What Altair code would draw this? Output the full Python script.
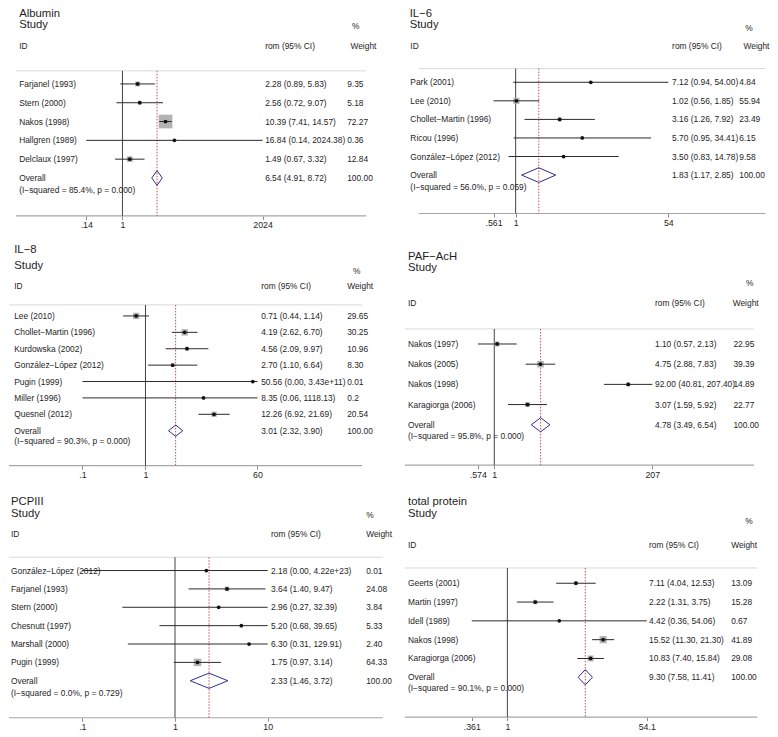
import math
import numpy as np
import pandas as pd
import altair as alt

FONT = "Liberation Sans"
TXT = "#1e1e1e"
SX, SY = 0.984, 0.977          # fit the reference layout inside the 8px page margin
CELL_W = 386.0

# ---------------- data ----------------
albumin_study = ["Farjanel (1993)", "Stern (2000)", "Nakos (1998)", "Hallgren (1989)", "Delclaux (1997)"]
albumin_est = [2.28, 2.56, 10.39, 16.84, 1.49]
albumin_lo = [0.89, 0.72, 7.41, 0.14, 0.67]
albumin_hi = [5.83, 9.07, 14.57, 2024.38, 3.32]
albumin_wt = ["9.35", "5.18", "72.27", "0.36", "12.84"]
albumin_overall = [6.54, 4.91, 8.72]
albumin_het = ["85.4%", "0.000"]
albumin_ticks = [0.14, 1, 2024]

il6_study = ["Park (2001)", "Lee (2010)", "Chollet\u2212Martin (1996)", "Ricou (1996)", "González\u2212López (2012)"]
il6_est = [7.12, 1.02, 3.16, 5.70, 3.50]
il6_lo = [0.94, 0.56, 1.26, 0.95, 0.83]
il6_hi = [54.00, 1.85, 7.92, 34.41, 14.78]
il6_wt = ["4.84", "55.94", "23.49", "6.15", "9.58"]
il6_overall = [1.83, 1.17, 2.85]
il6_het = ["56.0%", "0.059"]
il6_ticks = [0.561, 1, 54]

il8_study = ["Lee (2010)", "Chollet\u2212Martin (1996)", "Kurdowska (2002)", "González\u2212López (2012)",
             "Pugin (1999)", "Miller (1996)", "Quesnel (2012)"]
il8_est = [0.71, 4.19, 4.56, 2.70, 50.56, 8.35, 12.26]
il8_lo = [0.44, 2.62, 2.09, 1.10, 0.00, 0.06, 6.92]
il8_hi = [1.14, 6.70, 9.97, 6.64, 3.43e11, 1118.13, 21.69]
il8_wt = ["29.65", "30.25", "10.96", "8.30", "0.01", "0.2", "20.54"]
il8_overall = [3.01, 2.32, 3.90]
il8_het = ["90.3%", "0.000"]
il8_ticks = [0.1, 1, 60]

paf_study = ["Nakos (1997)", "Nakos (2005)", "Nakos (1998)", "Karagiorga (2006)"]
paf_est = [1.10, 4.75, 92.00, 3.07]
paf_lo = [0.57, 2.88, 40.81, 1.59]
paf_hi = [2.13, 7.83, 207.40, 5.92]
paf_wt = ["22.95", "39.39", "14.89", "22.77"]
paf_overall = [4.78, 3.49, 6.54]
paf_het = ["95.8%", "0.000"]
paf_ticks = [0.574, 1, 207]

pcp_study = ["González\u2212López (2012)", "Farjanel (1993)", "Stern (2000)", "Chesnutt (1997)",
             "Marshall (2000)", "Pugin (1999)"]
pcp_est = [2.18, 3.64, 2.96, 5.20, 6.30, 1.75]
pcp_lo = [0.00, 1.40, 0.27, 0.68, 0.31, 0.97]
pcp_hi = [4.22e23, 9.47, 32.39, 39.65, 129.91, 3.14]
pcp_wt = ["0.01", "24.08", "3.84", "5.33", "2.40", "64.33"]
pcp_overall = [2.33, 1.46, 3.72]
pcp_het = ["0.0%", "0.729"]
pcp_ticks = [0.1, 1, 10]

tp_study = ["Geerts (2001)", "Martin (1997)", "Idell (1989)", "Nakos (1998)", "Karagiorga (2006)"]
tp_est = [7.11, 2.22, 4.42, 15.52, 10.83]
tp_lo = [4.04, 1.31, 0.36, 11.30, 7.40]
tp_hi = [12.53, 3.75, 54.06, 21.30, 15.84]
tp_wt = ["13.09", "15.28", "0.67", "41.89", "29.08"]
tp_overall = [9.30, 7.58, 11.41]
tp_het = ["90.1%", "0.000"]
tp_ticks = [0.361, 1, 54.1]

titles = ["Albumin", "IL\u22126", "IL\u22128", "PAF\u2212AcH", "PCPIII", "total protein"]

DATA = [
    dict(study=albumin_study, est=albumin_est, lo=albumin_lo, hi=albumin_hi, wt=albumin_wt,
         overall=albumin_overall, het=albumin_het, ticks=albumin_ticks),
    dict(study=il6_study, est=il6_est, lo=il6_lo, hi=il6_hi, wt=il6_wt,
         overall=il6_overall, het=il6_het, ticks=il6_ticks),
    dict(study=il8_study, est=il8_est, lo=il8_lo, hi=il8_hi, wt=il8_wt,
         overall=il8_overall, het=il8_het, ticks=il8_ticks),
    dict(study=paf_study, est=paf_est, lo=paf_lo, hi=paf_hi, wt=paf_wt,
         overall=paf_overall, het=paf_het, ticks=paf_ticks),
    dict(study=pcp_study, est=pcp_est, lo=pcp_lo, hi=pcp_hi, wt=pcp_wt,
         overall=pcp_overall, het=pcp_het, ticks=pcp_ticks),
    dict(study=tp_study, est=tp_est, lo=tp_lo, hi=tp_hi, wt=tp_wt,
         overall=tp_overall, het=tp_het, ticks=tp_ticks),
]

# ---------------- layout (reference pixel geometry) ----------------
# grid rows are stacked flush: each row starts where the previous row's tallest panel ends
ROW_TOPS = [0.0, 211.7, 467.3]
COL_LEFTS = [3.0, 3.0 + CELL_W]

LAYOUT = [
    dict(cell=(COL_LEFTS[0], ROW_TOPS[0]), axis_y=211.7, first=76.7, sp=19.25, null_x=118.3, ppu=18.7,
         sep_y=63.3, line_x=(10, 366), box_c=1.647, dia_h=7.5, isq_dy=12.0,
         title=(13.3, 5.6), study_hdr=(13.3, 16.5), pct=(351.7, 17.8), hdr_y=37.8,
         id_x=13.3, ci_x=263.3, w_x=346.7, whdr_x=350.0),
    dict(cell=(COL_LEFTS[1], ROW_TOPS[0]), axis_y=209.3, first=75.0, sp=19.0, null_x=517.7, ppu=38.9,
         sep_y=61.0, line_x=(419.3, 771.7), box_c=0.842, dia_h=7.5, isq_dy=12.3,
         title=(410.0, 5.6), study_hdr=(410.0, 16.5), pct=(751.0, 19.2), hdr_y=37.8,
         id_x=410.7, ci_x=676.7, w_x=745.0, whdr_x=749.3),
    dict(cell=(COL_LEFTS[0], ROW_TOPS[1]), axis_y=467.3, first=314.0, sp=16.78, null_x=141.7, ppu=27.8,
         sep_y=302.7, line_x=(3, 361.7), box_c=1.19, dia_h=5.8, isq_dy=10.7,
         title=(8.3, 246.5), study_hdr=(8.3, 262.8), pct=(352.7, 267.8), hdr_y=283.7,
         id_x=8.3, ci_x=259.3, w_x=346.7, whdr_x=346.7),
    dict(cell=(COL_LEFTS[1], ROW_TOPS[1]), axis_y=466.7, first=342.7, sp=20.67, null_x=496.0, ppu=30.1,
         sep_y=327.3, line_x=(405, 760), box_c=1.07, dia_h=7.2, isq_dy=11.0,
         title=(408.3, 253.7), study_hdr=(408.3, 264.5), pct=(751.7, 280.0), hdr_y=301.2,
         id_x=408.3, ci_x=659.3, w_x=739.0, whdr_x=738.3),
    dict(cell=(COL_LEFTS[0], ROW_TOPS[2]), axis_y=725.0, first=574.3, sp=18.8, null_x=171.7, ppu=40.9,
         sep_y=560.7, line_x=(3, 383), box_c=0.96, dia_h=7.8, isq_dy=12.3,
         title=(5.0, 504.2), study_hdr=(5.0, 516.2), pct=(366.0, 517.2), hdr_y=537.0,
         id_x=5.0, ci_x=269.3, w_x=366.0, whdr_x=366.0),
    dict(cell=(COL_LEFTS[1], ROW_TOPS[2]), axis_y=724.3, first=587.3, sp=19.25, null_x=509.3, ppu=35.5,
         sep_y=571.7, line_x=(405, 763.3), box_c=1.13, dia_h=7.8, isq_dy=10.7,
         title=(408.3, 504.2), study_hdr=(408.3, 516.2), pct=(751.0, 523.3), hdr_y=547.8,
         id_x=408.3, ci_x=653.3, w_x=736.7, whdr_x=736.7),
]

ROW_FS = 8.4
TITLE_FS = 11.3


def fmt(v):
    return f"{v:.2e}" if v >= 1e5 else f"{v:.2f}"


def forest(d, L, title):
    cl, ct = L["cell"]
    W = CELL_W * SX
    H = (L["axis_y"] - ct) * SY
    px = lambda xr: (xr - cl) * SX
    py = lambda yr: (yr - ct) * SY
    first, sp = L["first"], L["sp"]
    idx = lambda yr: (yr - first) / sp
    nloc = L["null_x"] - cl
    xs = alt.Scale(type="log", domain=[math.exp(-nloc / L["ppu"]), math.exp((CELL_W - nloc) / L["ppu"])],
                   nice=False, zero=False)
    ys = alt.Scale(domain=[idx(ct), idx(L["axis_y"])], reverse=True, nice=False, zero=False)
    xaxis = alt.Axis(values=d["ticks"],
                     labelExpr="datum.value < 1 ? slice(toString(datum.value), 1) : toString(datum.value)",
                     domain=False, grid=False, ticks=True, tickColor="#8a8a8a", tickSize=3.5, tickWidth=1,
                     labelFontSize=8.8, labelFont=FONT, labelColor=TXT, labelPadding=1.5, title=None,
                     labelOverlap=False, labelFlush=False, labelBound=False)
    X = lambda f: alt.X(f, type="quantitative", scale=xs, axis=xaxis)
    Y = lambda f: alt.Y(f, type="quantitative", scale=ys, axis=None)

    tmin, tmax = min(d["ticks"]), max(d["ticks"])
    n = len(d["study"])
    rows = pd.DataFrame({
        "study": d["study"],
        "est": d["est"],
        "lo": np.clip(d["lo"], tmin, tmax),
        "hi": np.clip(d["hi"], tmin, tmax),
        "row": np.arange(n),
        "bs": [L["box_c"] ** 2 * float(w) * SX * SY for w in d["wt"]],
    })
    oest, olo, ohi = d["overall"]
    texts = pd.DataFrame({
        "row": list(range(n)) + [n],
        "label": d["study"] + ["Overall"],
        "ci": [f"{fmt(e)} ({fmt(l)}, {fmt(h)})" for e, l, h in zip(d["est"], d["lo"], d["hi"])]
              + [f"{fmt(oest)} ({fmt(olo)}, {fmt(ohi)})"],
        "wt": d["wt"] + ["100.00"],
    })
    hh = L["dia_h"] / sp
    diamond = pd.DataFrame({"x": [olo, oest, ohi, oest, olo],
                            "y": [n, n - hh, n, n + hh, n],
                            "o": [0, 1, 2, 3, 4]})
    one = pd.DataFrame({"a": [0]})

    def label(txt, xr, yr, fs):
        return alt.Chart(one).mark_text(text=txt, font=FONT, fontSize=fs, color=TXT, align="left",
                                        baseline="middle").encode(x=alt.value(px(xr)), y=alt.value(py(yr)))

    layers = []
    # header separator and axis line
    layers.append(alt.Chart(one).mark_rule(color="#d9d9d9", strokeWidth=1).encode(
        x=alt.value(px(L["line_x"][0])), x2=alt.value(px(L["line_x"][1])), y=alt.value(py(L["sep_y"]))))
    layers.append(alt.Chart(one).mark_rule(color="#a6a6a6", strokeWidth=1.2).encode(
        x=alt.value(px(L["line_x"][0])), x2=alt.value(px(L["line_x"][1])), y=alt.value(H)))
    # null line and overall line
    layers.append(alt.Chart(pd.DataFrame({"v": [1.0]})).mark_rule(color="#444444", strokeWidth=1).encode(
        x=X("v"), y=alt.value(py(L["sep_y"])), y2=alt.value(H)))
    layers.append(alt.Chart(pd.DataFrame({"v": [oest]})).mark_rule(
        color="#c85050", strokeWidth=1, strokeDash=[1.5, 1.5]).encode(
        x=X("v"), y=alt.value(py(L["sep_y"])), y2=alt.value(H)))
    # weight boxes, CI lines, point estimates
    layers.append(alt.Chart(rows).mark_square(color="#b3b3b3", opacity=1).encode(
        x=X("est"), y=Y("row"), size=alt.Size("bs:Q", scale=None, legend=None)))
    layers.append(alt.Chart(rows).mark_rule(color="#2a2a2a", strokeWidth=1).encode(
        x=X("lo"), x2="hi", y=Y("row")))
    layers.append(alt.Chart(rows).mark_circle(color="#111111", size=14, opacity=1).encode(
        x=X("est"), y=Y("row")))
    # overall diamond
    layers.append(alt.Chart(diamond).mark_line(color="#2e2e8f", strokeWidth=1).encode(
        x=X("x"), y=Y("y"), order="o:Q"))
    # text columns
    base_txt = dict(font=FONT, fontSize=ROW_FS, color=TXT, align="left", baseline="middle")
    layers.append(alt.Chart(texts).mark_text(**base_txt).encode(
        x=alt.value(px(L["id_x"])), y=Y("row"), text="label:N"))
    layers.append(alt.Chart(texts).mark_text(**base_txt).encode(
        x=alt.value(px(L["ci_x"])), y=Y("row"), text="ci:N"))
    layers.append(alt.Chart(texts).mark_text(**base_txt).encode(
        x=alt.value(px(L["w_x"])), y=Y("row"), text="wt:N"))
    het = pd.DataFrame({"row": [n], "t": [f"(I\u2212squared = {d['het'][0]}, p = {d['het'][1]})"]})
    layers.append(alt.Chart(het).mark_text(dy=L["isq_dy"] * SY, **base_txt).encode(
        x=alt.value(px(L["id_x"])), y=Y("row"), text="t:N"))
    # header
    layers.append(label(title, L["title"][0], L["title"][1], TITLE_FS))
    layers.append(label("Study", L["study_hdr"][0], L["study_hdr"][1], TITLE_FS))
    layers.append(label("%", L["pct"][0], L["pct"][1], ROW_FS))
    layers.append(label("ID", L["id_x"], L["hdr_y"], ROW_FS))
    layers.append(label("rom (95% CI)", L["ci_x"], L["hdr_y"], ROW_FS))
    layers.append(label("Weight", L["whdr_x"], L["hdr_y"], ROW_FS))

    return alt.layer(*layers).properties(width=W, height=H)


panels = [forest(d, L, t) for d, L, t in zip(DATA, LAYOUT, titles)]

chart = alt.concat(*panels, columns=2, spacing=0, bounds="flush").properties(
    padding=0
).configure_view(stroke=None)

chart.save("out.html", embed_options={"renderer": "svg", "actions": False})
